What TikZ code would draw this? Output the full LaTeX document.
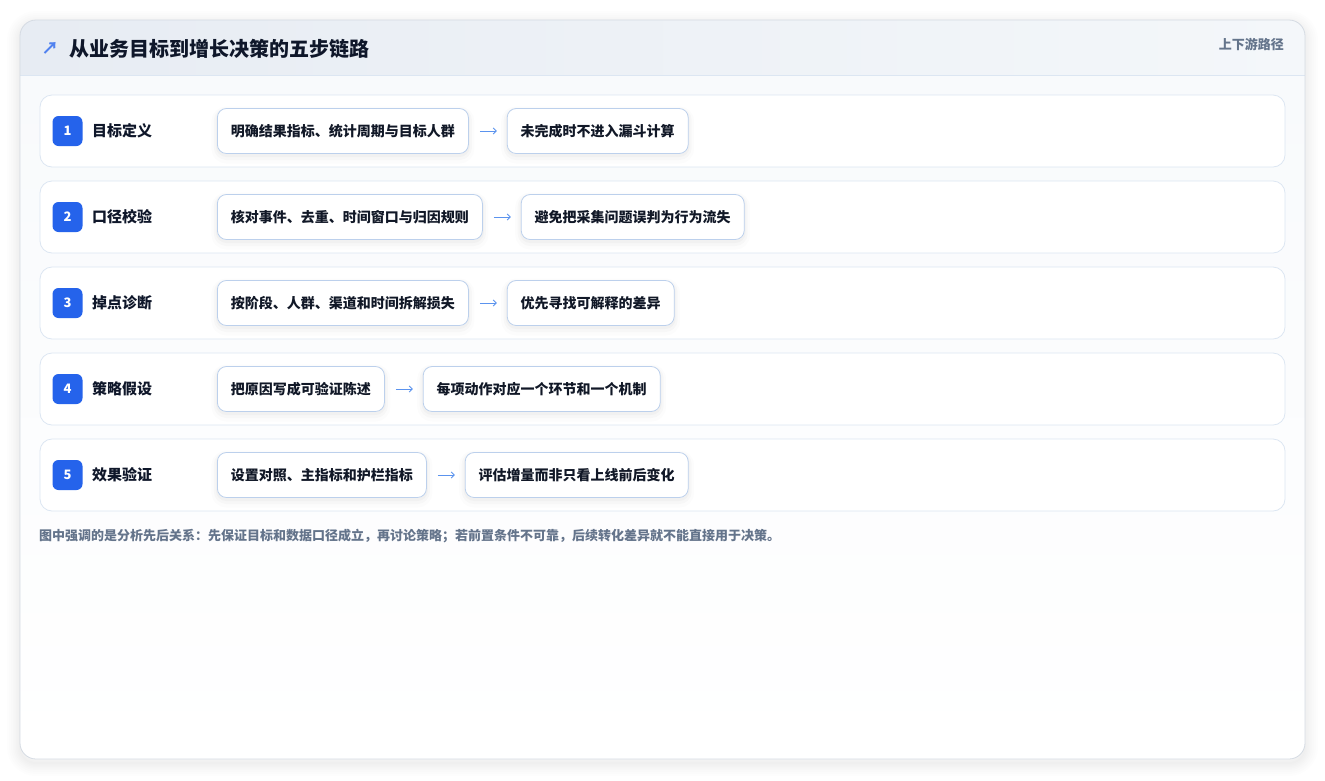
\documentclass[tikz,border=0pt]{standalone}
\usepackage{fontspec}
\setmainfont{Noto Sans CJK SC}
\usetikzlibrary{calc,arrows.meta}
\definecolor{cardborder}{HTML}{D5DBE3}
\definecolor{bodyfill}{HTML}{F8FAFC}
\definecolor{headl}{HTML}{E7ECF3}
\definecolor{headr}{HTML}{F4F7FA}
\definecolor{rowborder}{HTML}{DCE6F2}
\definecolor{boxborder}{HTML}{BCD0EC}
\definecolor{badge}{HTML}{2563EB}
\definecolor{titlec}{HTML}{0F172A}
\definecolor{textc}{HTML}{111827}
\definecolor{grayc}{HTML}{64748B}
\definecolor{arrowc}{HTML}{5B93EE}
\tikzset{
  rowbox/.style={draw=rowborder, line width=0.8pt, fill=white, rounded corners=12pt},
  badgebox/.style={fill=badge, rounded corners=6pt, minimum width=30pt, minimum height=30pt, inner sep=0pt, text=white, font=\fontsize{13}{15}\selectfont\bfseries},
  steplabel/.style={anchor=west, inner sep=0pt, text=titlec, font=\fontsize{15}{18}\selectfont\bfseries},
  itembox/.style={draw=boxborder, line width=0.8pt, fill=white, rounded corners=9pt, minimum height=45pt, inner xsep=13.5pt, anchor=west, text=textc, font=\fontsize{14}{16}\selectfont\bfseries,
    preaction={draw=black, draw opacity=0.012, line width=12pt, transform canvas={yshift=-4pt}},
    preaction={draw=black, draw opacity=0.018, line width=7pt, transform canvas={yshift=-3pt}},
    preaction={draw=black, draw opacity=0.025, line width=3pt, transform canvas={yshift=-2pt}}},
  flow/.style={draw=arrowc, line width=0.9pt, -{Straight Barb[length=3pt,width=6pt]}, shorten <=11pt, shorten >=10pt}
}
\begin{document}
\begin{tikzpicture}[x=1pt,y=-1pt]
\useasboundingbox (0,0) rectangle (1325,780);
\fill[white] (0,0) rectangle (1325,780);
% outer card shadow
\foreach \w in {2,5,8,11,14,18,22,26}{
  \draw[black, draw opacity=0.008, line width=\w pt, rounded corners=16pt] (20,24) rectangle (1305,763);
}
\begin{scope}
\clip[rounded corners=16pt] (20,20) rectangle (1305,759);
\shade[top color=bodyfill, bottom color=white] (20,75) rectangle (1305,759);
\shade[left color=headl, right color=headr] (20,20) rectangle (1305,75);
\draw[rowborder, line width=0.8pt] (20,75) -- (1305,75);
\end{scope}
\draw[cardborder, line width=0.8pt, rounded corners=16pt] (20,20) rectangle (1305,759);
% header
\node[anchor=center, inner sep=0pt, text=badge!80!white, font=\fontsize{17}{20}\selectfont\bfseries] (icon) at (50,48) {↗};
\node[anchor=west, inner sep=0pt, text=titlec, font=\fontsize{20}{24}\selectfont\bfseries] (title) at (69,48.5) {从业务目标到增长决策的五步链路};
\node[anchor=east, inner sep=0pt, text=grayc, font=\fontsize{13}{15}\selectfont\bfseries] (route) at (1284,44) {上下游路径};
% rows
\foreach \i/\lab/\a/\b [count=\k] in {
 1/目标定义/明确结果指标、统计周期与目标人群/未完成时不进入漏斗计算,
 2/口径校验/核对事件、去重、时间窗口与归因规则/避免把采集问题误判为行为流失,
 3/掉点诊断/按阶段、人群、渠道和时间拆解损失/优先寻找可解释的差异,
 4/策略假设/把原因写成可验证陈述/每项动作对应一个环节和一个机制,
 5/效果验证/设置对照、主指标和护栏指标/评估增量而非只看上线前后变化}{
  \pgfmathsetmacro{\yc}{131+86*(\k-1)}
  \draw[rowbox] (40,\yc-36) rectangle (1285,\yc+36);
  \node[badgebox] (badge\k) at (67.5,\yc) {\i};
  \node[steplabel] (lab\k) at (92,\yc) {\lab};
  \node[itembox] (a\k) at (217,\yc) {\a};
  \node[itembox, anchor=west] (b\k) at ($(a\k.east)+(38,0)$) {\b};
  \draw[flow] (a\k.east) -- (b\k.west);
}
% footnote
\node[anchor=west, inner sep=0pt, text=grayc, font=\fontsize{13}{15}\selectfont\bfseries] (note) at (39,536) {图中强调的是分析先后关系：先保证目标和数据口径成立，再讨论策略；若前置条件不可靠，后续转化差异就不能直接用于决策。};
\end{tikzpicture}
\end{document}
